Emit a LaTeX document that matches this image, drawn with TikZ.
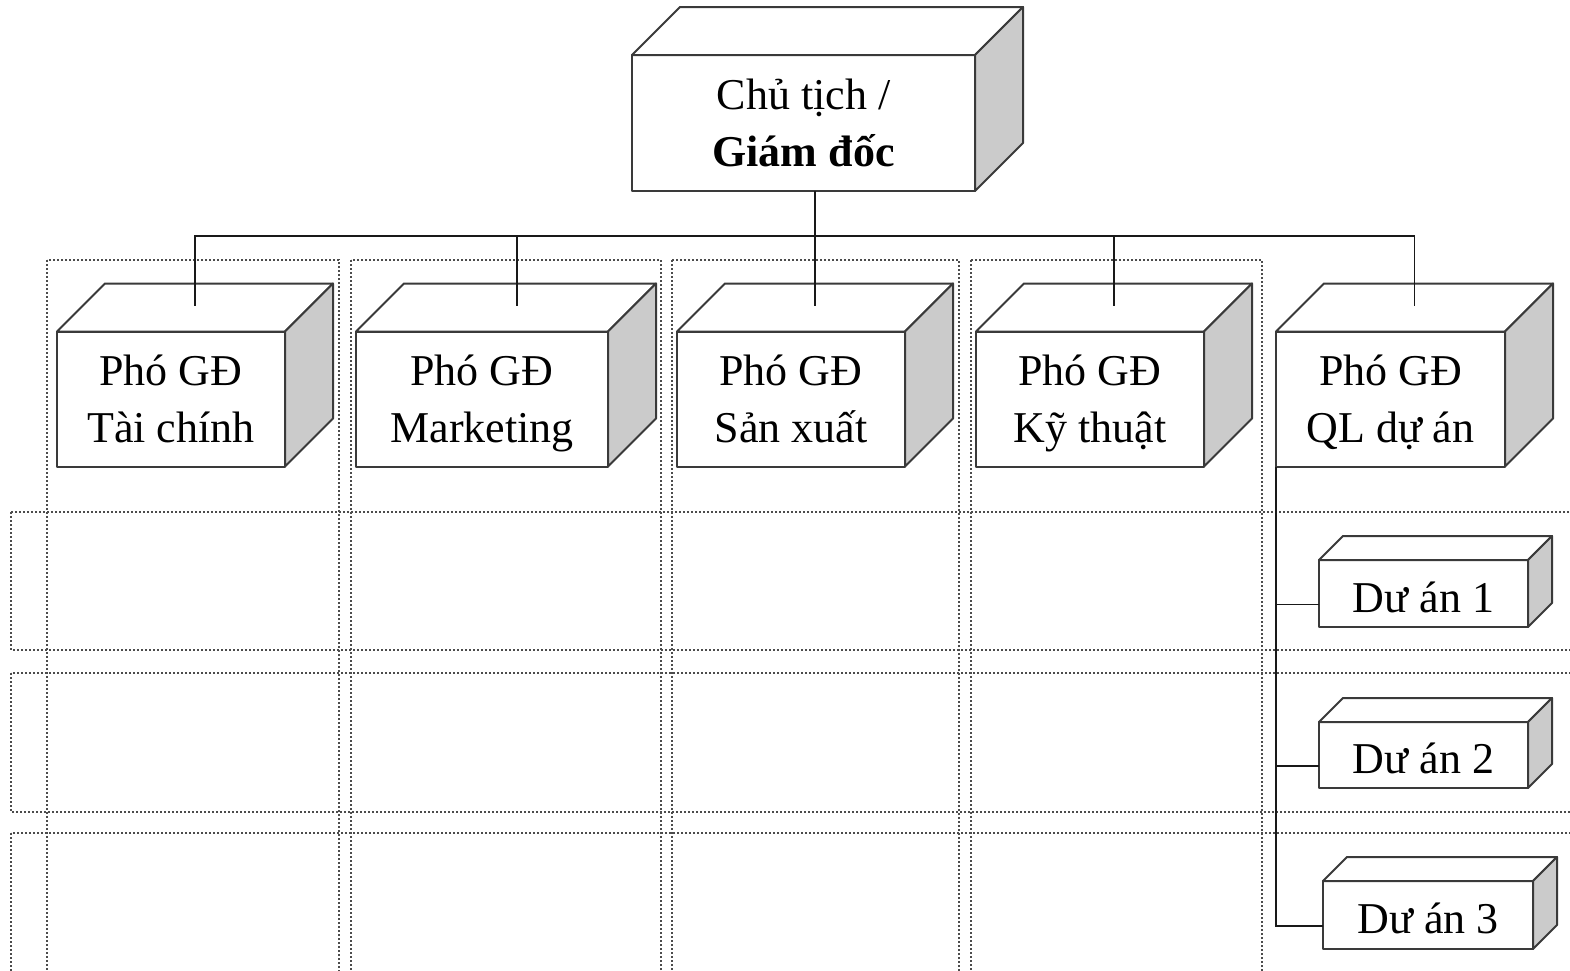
\documentclass[tikz,border=0pt]{standalone}
\usepackage{fontspec}
\setmainfont{Liberation Serif}
\usetikzlibrary{calc}
\definecolor{sidegray}{HTML}{CBCBCB}
\definecolor{edgegray}{HTML}{3A3A3A}
\tikzset{
  face/.style={draw=edgegray, line width=2pt, line join=round},
  frontbox/.style={face, fill=white, inner sep=0pt, outer sep=0pt, align=center,
     font=\fontsize{44}{57}\selectfont, text height=86pt, text depth=0pt},
  smallbox/.style={frontbox, text height=37pt},
  conn/.style={draw=black!90, line width=1.9pt},
  dots/.style={draw=black!70, line width=2pt, dash pattern=on 2pt off 2pt},
}
\newcommand\boxfaces[2]{%
  \filldraw[face, fill=white] (#1.north west) -- ++(#2,-#2) -- ($(#1.north east)+(#2,-#2)$) -- (#1.north east) -- cycle;
  \filldraw[face, fill=sidegray] (#1.north east) -- ++(#2,-#2) -- ($(#1.south east)+(#2,-#2)$) -- (#1.south east) -- cycle;}
\begin{document}
\begin{tikzpicture}[x=1pt, y=-1pt]
\useasboundingbox (0,0) rectangle (1570,970);
\clip (0,0) rectangle (1570,970);
% dotted grid
\draw[dots] (47,260) rectangle (339,1000);
\draw[dots] (351,260) rectangle (661,1000);
\draw[dots] (672,260) rectangle (959,1000);
\draw[dots] (971,260) rectangle (1262,1000);
\draw[dots] (11,512) rectangle (1600,650);
\draw[dots] (11,673) rectangle (1600,812);
\draw[dots] (11,833) rectangle (1600,1000);
% top box
\node[frontbox, minimum width=343pt, minimum height=136pt] (top) at (803.5,123) {Chủ tịch /\\\textbf{Giám đốc}};
\boxfaces{top}{48}
% deputies
\node[frontbox, minimum width=228pt, minimum height=135pt] (p1) at (171,399) {Phó GĐ\\Tài chính};
\boxfaces{p1}{48}
\node[frontbox, minimum width=252pt, minimum height=135pt] (p2) at (482,399) {Phó GĐ\\Marketing};
\boxfaces{p2}{48}
\node[frontbox, minimum width=228pt, minimum height=135pt] (p3) at (791,399) {Phó GĐ\\Sản xuất};
\boxfaces{p3}{48}
\node[frontbox, minimum width=228pt, minimum height=135pt] (p4) at (1090,399) {Phó GĐ\\Kỹ thuật};
\boxfaces{p4}{48}
\node[frontbox, minimum width=229pt, minimum height=135pt] (p5) at (1390.5,399) {Phó GĐ\\QL dự án};
\boxfaces{p5}{48}
% projects
\node[smallbox, minimum width=209pt, minimum height=67pt] (d1) at (1423.5,593.5) {Dư án 1};
\boxfaces{d1}{24}
\node[smallbox, minimum width=209pt, minimum height=66pt] (d2) at (1423.5,755) {Dư án 2};
\boxfaces{d2}{24}
\node[smallbox, minimum width=210pt, minimum height=68pt] (d3) at (1428,915) {Dư án 3};
\boxfaces{d3}{24}
% connectors
\coordinate (bus) at (815,236);
\foreach \n in {p1,p3,p4,p5} {\coordinate (\n t) at ($(\n.north)+(24,-26)$);}
\coordinate (p2t) at ($(p2.north)+(35,-26)$);
\draw[conn] (top.south -| bus) -- (bus);
\draw[conn] (p1t) |- (p5t |- bus) -- (p5t);
\draw[conn] (p2t) -- (p2t |- bus);
\draw[conn] (p3t) -- (p3t |- bus);
\draw[conn] (p4t) -- (p4t |- bus);
\coordinate (d1c) at ($(d1.west)+(0,11)$);
\coordinate (d2c) at ($(d2.west)+(0,11)$);
\coordinate (d3c) at ($(d3.west)+(0,11)$);
\draw[conn] (p5.south west) |- (d3c);
\draw[conn] (d1c -| p5.south west) -- (d1c);
\draw[conn] (d2c -| p5.south west) -- (d2c);
\end{tikzpicture}
\end{document}
